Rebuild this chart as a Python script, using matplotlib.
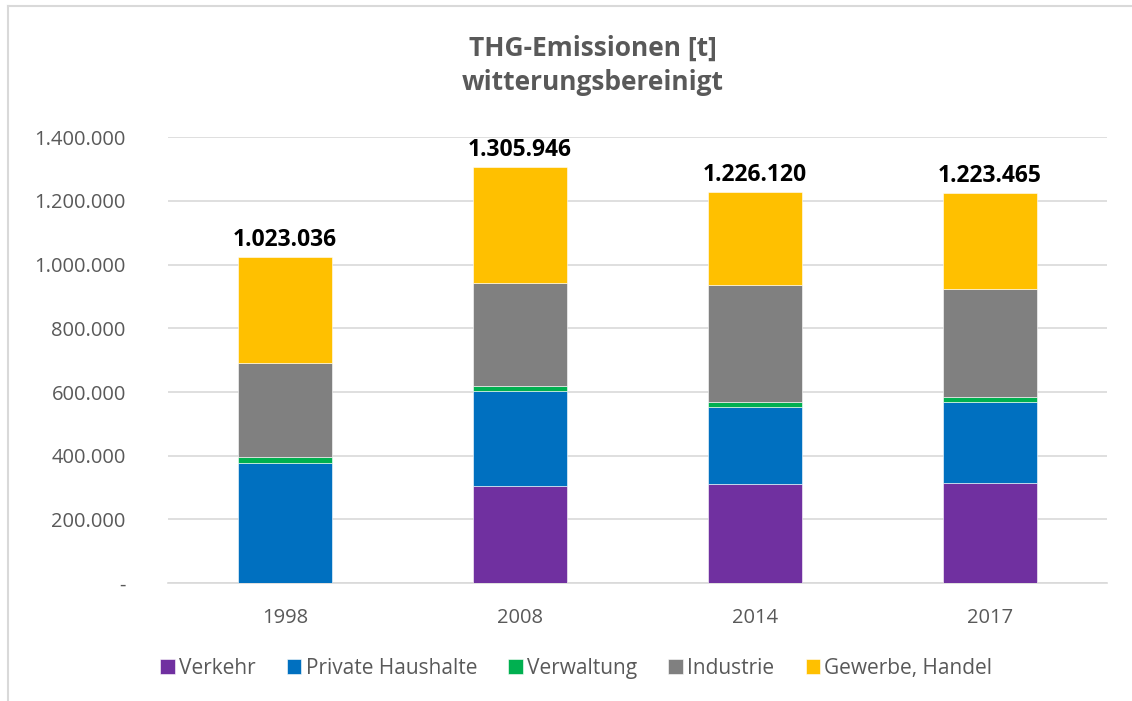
import matplotlib
matplotlib.use('Agg')
import matplotlib.pyplot as plt
import numpy as np
from matplotlib.lines import Line2D

plt.rcParams['font.family'] = ['Open Sans', 'DejaVu Sans']

years = ['1998', '2008', '2014', '2017']
verkehr = [0, 305000, 312000, 314000]
haushalte = [376000, 297000, 241000, 254000]
verwaltung = [20000, 18000, 17000, 16000]
industrie = [294000, 321000, 366000, 339000]
gewerbe = [333036, 364946, 290120, 300465]
totals = ['1.023.036', '1.305.946', '1.226.120', '1.223.465']

series = [('Verkehr', verkehr, '#7030a0'),
          ('Private Haushalte', haushalte, '#0070c0'),
          ('Verwaltung', verwaltung, '#00b050'),
          ('Industrie', industrie, '#808080'),
          ('Gewerbe, Handel', gewerbe, '#ffc000')]

fig = plt.figure(figsize=(11.32, 7.01), dpi=100)
ax = fig.add_axes([0.148, 0.168, 0.83, 0.6365])

x = np.arange(len(years))
bottom = np.zeros(len(years))
for name, vals, col in series:
    ax.bar(x, vals, 0.4, bottom=bottom, color=col, label=name,
           edgecolor='white', linewidth=0.4, zorder=3)
    bottom += np.array(vals)

for i, t in enumerate(totals):
    ax.text(x[i], bottom[i] + 16000, t, ha='center', va='bottom',
            fontsize=16.5, fontweight='bold', color='black')

ax.set_ylim(0, 1400000)
ax.set_xlim(-0.5, len(years) - 0.5)
ticks = np.arange(0, 1400001, 200000)
ax.set_yticks(ticks)
ax.set_yticklabels(['-'] + ['{:,}'.format(int(v)).replace(',', '.') for v in ticks[1:]])
ax.set_xticks(x)
ax.set_xticklabels(years)
ax.tick_params(axis='both', length=0, labelsize=14.5, labelcolor='#595959')
ax.tick_params(axis='y', pad=30)
ax.tick_params(axis='x', pad=18)
ax.grid(axis='y', color='#d9d9d9', linewidth=1.2, zorder=0)
for s in ['top', 'right', 'left']:
    ax.spines[s].set_visible(False)
ax.spines['bottom'].set_color('#d9d9d9')
ax.spines['bottom'].set_linewidth(1.2)

fig.text(0.524, 0.907, 'THG-Emissionen [t]\nwitterungsbereinigt', ha='center', va='center',
         fontsize=19, fontweight='bold', color='#595959', linespacing=1.35)

fig.legend(loc='center', bbox_to_anchor=(0.509, 0.047), ncol=5, frameon=False,
           fontsize=15, labelcolor='#595959', handlelength=0.7, handleheight=0.7,
           handletextpad=0.2, columnspacing=1.5)

fig.add_artist(Line2D([8 / 1132, 8 / 1132], [0, 1 - 6 / 701], transform=fig.transFigure,
                      color='#d9d9d9', linewidth=1.5))
fig.add_artist(Line2D([8 / 1132, 1], [1 - 6 / 701, 1 - 6 / 701], transform=fig.transFigure,
                      color='#d9d9d9', linewidth=1.5))

fig.savefig('out.png', dpi=100)
